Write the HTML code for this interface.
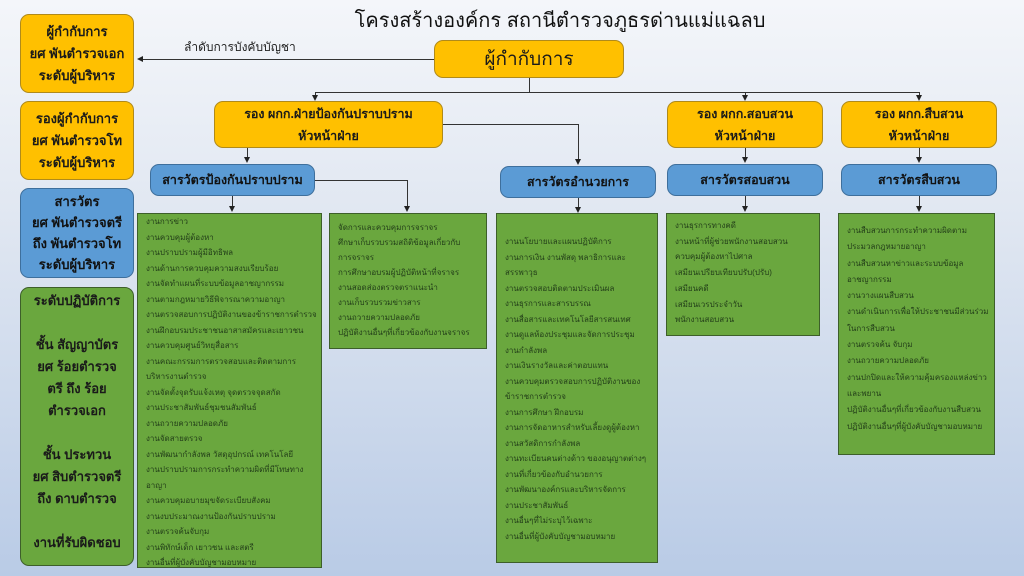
<!DOCTYPE html>
<html><head><meta charset="utf-8"><style>
*{margin:0;padding:0;box-sizing:border-box}
body{width:1024px;height:576px;overflow:hidden;position:relative;font-family:"Liberation Sans","DejaVu Sans",sans-serif;background:linear-gradient(180deg,#f4f6fa 0%,#dfe6f1 40%,#b9cbe6 100%)}
.b{position:absolute;border-radius:9px;display:flex;align-items:center;justify-content:center;text-align:center;font-weight:bold;color:#1a1a1a}
.y{background:#ffc000;border:1px solid #b08a1a}
.bl{background:#5b9bd5;border:1px solid #3e6f9c;color:#111}
.g{position:absolute;background:#6aa73e;border:1px solid #3d5f2a;color:#24401a;font-size:8px;line-height:15.5px;padding:6px 4px 0 8px;white-space:nowrap;overflow:hidden}
.gl{background:#6aa73e;border:1px solid #3d5f2a}
.l{position:absolute;background:#333}
.a{position:absolute;width:0;height:0;border-left:3px solid transparent;border-right:3px solid transparent;border-top:6px solid #222}
</style></head><body>
<div style="position:absolute;left:300px;top:4px;width:520px;text-align:center;font-size:20px;color:#111">โครงสร้างองค์กร สถานีตำรวจภูธรด่านแม่แฉลบ</div>

<div class="b y" style="left:20px;top:14px;width:114px;height:79px;font-size:13px;line-height:22px">ผู้กำกับการ<br>ยศ พันตำรวจเอก<br>ระดับผู้บริหาร</div>
<div class="b y" style="left:20px;top:101px;width:114px;height:79px;font-size:13px;line-height:22px">รองผู้กำกับการ<br>ยศ พันตำรวจโท<br>ระดับผู้บริหาร</div>
<div class="b bl" style="left:20px;top:188px;width:114px;height:90px;font-size:13px;line-height:21px">สารวัตร<br>ยศ พันตำรวจตรี<br>ถึง พันตำรวจโท<br>ระดับผู้บริหาร</div>
<div class="b gl" style="left:20px;top:287px;width:114px;height:279px;font-size:13px;line-height:22px;align-items:flex-start;padding-top:2px">ระดับปฏิบัติการ<br><br>ชั้น สัญญาบัตร<br>ยศ ร้อยตำรวจ<br>ตรี ถึง ร้อย<br>ตำรวจเอก<br><br>ชั้น ประทวน<br>ยศ สิบตำรวจตรี<br>ถึง ดาบตำรวจ<br><br>งานที่รับผิดชอบ</div>

<div class="l" style="left:140px;top:59px;width:294px;height:1px"></div>
<div style="position:absolute;left:137px;top:56px;width:0;height:0;border-top:3px solid transparent;border-bottom:3px solid transparent;border-right:6px solid #222"></div>
<div style="position:absolute;left:184px;top:38px;font-size:12px;color:#222">ลำดับการบังคับบัญชา</div>

<div class="b y" style="left:434px;top:40px;width:190px;height:38px;font-size:19px;font-weight:normal">ผู้กำกับการ</div>
<div class="l" style="left:529px;top:78px;width:1px;height:15px"></div>
<div class="l" style="left:315px;top:92px;width:605px;height:1px"></div>
<div class="l" style="left:315px;top:92px;width:1px;height:4px"></div><div class="a" style="left:312px;top:95px"></div>
<div class="l" style="left:745px;top:92px;width:1px;height:4px"></div><div class="a" style="left:742px;top:95px"></div>
<div class="l" style="left:919px;top:92px;width:1px;height:4px"></div><div class="a" style="left:916px;top:95px"></div>

<div class="b y" style="left:214px;top:101px;width:229px;height:47px;font-size:12.5px;line-height:22px">รอง ผกก.ฝ่ายป้องกันปราบปราม<br>หัวหน้าฝ่าย</div>
<div class="b y" style="left:667px;top:101px;width:156px;height:47px;font-size:12.5px;line-height:22px">รอง ผกก.สอบสวน<br>หัวหน้าฝ่าย</div>
<div class="b y" style="left:841px;top:101px;width:156px;height:47px;font-size:12.5px;line-height:22px">รอง ผกก.สืบสวน<br>หัวหน้าฝ่าย</div>

<div class="l" style="left:247px;top:148px;width:1px;height:10px"></div><div class="a" style="left:244px;top:157px"></div>
<div class="l" style="left:443px;top:124px;width:135px;height:1px"></div>
<div class="l" style="left:578px;top:124px;width:1px;height:36px"></div><div class="a" style="left:575px;top:159px"></div>
<div class="l" style="left:745px;top:148px;width:1px;height:10px"></div><div class="a" style="left:742px;top:157px"></div>
<div class="l" style="left:919px;top:148px;width:1px;height:10px"></div><div class="a" style="left:916px;top:157px"></div>

<div class="b bl" style="left:150px;top:164px;width:165px;height:32px;font-size:12.5px">สารวัตรป้องกันปราบปราม</div>
<div class="b bl" style="left:500px;top:166px;width:156px;height:32px;font-size:12.5px">สารวัตรอำนวยการ</div>
<div class="b bl" style="left:667px;top:164px;width:156px;height:32px;font-size:12.5px">สารวัตรสอบสวน</div>
<div class="b bl" style="left:841px;top:164px;width:156px;height:32px;font-size:12.5px">สารวัตรสืบสวน</div>

<div class="l" style="left:232px;top:196px;width:1px;height:11px"></div><div class="a" style="left:229px;top:206px"></div>
<div class="l" style="left:315px;top:180px;width:93px;height:1px"></div>
<div class="l" style="left:407px;top:180px;width:1px;height:27px"></div><div class="a" style="left:404px;top:206px"></div>
<div class="l" style="left:578px;top:198px;width:1px;height:9px"></div><div class="a" style="left:575px;top:207px"></div>
<div class="l" style="left:745px;top:196px;width:1px;height:11px"></div><div class="a" style="left:742px;top:206px"></div>
<div class="l" style="left:919px;top:196px;width:1px;height:11px"></div><div class="a" style="left:916px;top:206px"></div>

<div class="g" style="left:137px;top:213px;width:185px;height:355px;padding-top:0">งานการข่าว<br>งานควบคุมผู้ต้องหา<br>งานปราบปรามผู้มีอิทธิพล<br>งานด้านการควบคุมความสงบเรียบร้อย<br>งานจัดทำแผนที่ระบบข้อมูลอาชญากรรม<br>งานตามกฎหมายวิธีพิจารณาความอาญา<br>งานตรวจสอบการปฏิบัติงานของข้าราชการตำรวจ<br>งานฝึกอบรมประชาชนอาสาสมัครและเยาวชน<br>งานควบคุมศูนย์วิทยุสื่อสาร<br>งานคณะกรรมการตรวจสอบและติดตามการ<br>บริหารงานตำรวจ<br>งานจัดตั้งจุดรับแจ้งเหตุ จุดตรวจจุดสกัด<br>งานประชาสัมพันธ์ชุมชนสัมพันธ์<br>งานถวายความปลอดภัย<br>งานจัดสายตรวจ<br>งานพัฒนากำลังพล วัสดุอุปกรณ์ เทคโนโลยี<br>งานปราบปรามการกระทำความผิดที่มีโทษทาง<br>อาญา<br>งานควบคุมอบายมุขจัดระเบียบสังคม<br>งานงบประมาณงานป้องกันปราบปราม<br>งานตรวจค้นจับกุม<br>งานพิทักษ์เด็ก เยาวชน และสตรี<br>งานอื่นที่ผู้บังคับบัญชามอบหมาย</div>
<div class="g" style="left:329px;top:213px;width:158px;height:136px;line-height:15px">จัดการและควบคุมการจราจร<br>ศึกษาเก็บรวบรวมสถิติข้อมูลเกี่ยวกับ<br>การจราจร<br>การศึกษาอบรมผู้ปฏิบัติหน้าที่จราจร<br>งานสอดส่องตรวจตราแนะนำ<br>งานเก็บรวบรวมข่าวสาร<br>งานถวายความปลอดภัย<br>ปฏิบัติงานอื่นๆที่เกี่ยวข้องกับงานจราจร</div>
<div class="g" style="left:496px;top:213px;width:162px;height:350px;padding-top:20px">งานนโยบายและแผนปฏิบัติการ<br>งานการเงิน งานพัสดุ พลาธิการและ<br>สรรพาวุธ<br>งานตรวจสอบติดตามประเมินผล<br>งานธุรการและสารบรรณ<br>งานสื่อสารและเทคโนโลยีสารสนเทศ<br>งานดูแลห้องประชุมและจัดการประชุม<br>งานกำลังพล<br>งานเงินรางวัลและค่าตอบแทน<br>งานควบคุมตรวจสอบการปฏิบัติงานของ<br>ข้าราชการตำรวจ<br>งานการศึกษา ฝึกอบรม<br>งานการจัดอาหารสำหรับเลี้ยงดูผู้ต้องหา<br>งานสวัสดิการกำลังพล<br>งานทะเบียนคนต่างด้าว ของอนุญาตต่างๆ<br>งานที่เกี่ยวข้องกับอำนวยการ<br>งานพัฒนาองค์กรและบริหารจัดการ<br>งานประชาสัมพันธ์<br>งานอื่นๆที่ไม่ระบุไว้เฉพาะ<br>งานอื่นที่ผู้บังคับบัญชามอบหมาย</div>
<div class="g" style="left:666px;top:213px;width:154px;height:123px;padding-top:4px;line-height:15.7px">งานธุรการทางคดี<br>งานหน้าที่ผู้ช่วยพนักงานสอบสวน<br>ควบคุมผู้ต้องหาไปศาล<br>เสมียนเปรียบเทียบปรับ(ปรับ)<br>เสมียนคดี<br>เสมียนเวรประจำวัน<br>พนักงานสอบสวน</div>
<div class="g" style="left:838px;top:213px;width:157px;height:242px;padding-top:9px;line-height:16.3px">งานสืบสวนการกระทำความผิดตาม<br>ประมวลกฎหมายอาญา<br>งานสืบสวนหาข่าวและระบบข้อมูล<br>อาชญากรรม<br>งานวางแผนสืบสวน<br>งานดำเนินการเพื่อให้ประชาชนมีส่วนร่วม<br>ในการสืบสวน<br>งานตรวจค้น จับกุม<br>งานถวายความปลอดภัย<br>งานปกปิดและให้ความคุ้มครองแหล่งข่าว<br>และพยาน<br>ปฏิบัติงานอื่นๆที่เกี่ยวข้องกับงานสืบสวน<br>ปฏิบัติงานอื่นๆที่ผู้บังคับบัญชามอบหมาย</div>
</body></html>
